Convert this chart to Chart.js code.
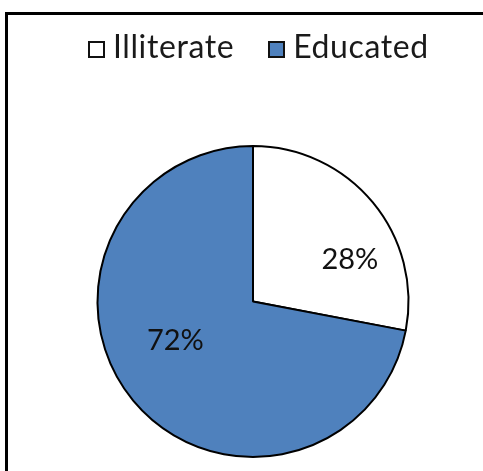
<!DOCTYPE html>
<html>
<head>
<meta charset="utf-8">
<script src="https://cdn.jsdelivr.net/npm/chart.js@4/dist/chart.umd.min.js"></script>
<style>
  html, body { margin: 0; padding: 0; background: #fff; overflow: hidden; }
  body { width: 483px; height: 471px; position: relative; }
  #frame {
    position: absolute; left: 5px; top: 12px; width: 600px; height: 600px;
    border-left: 3px solid #000; border-top: 3px solid #000;
  }
  #c { position: absolute; left: 0; top: 0; }
  #legend {
    position: absolute; left: 88px; top: 28px;
    display: flex; align-items: center;
    font-family: Lato, "Open Sans", sans-serif; font-size: 32px; line-height: 36px;
    letter-spacing: 0.6px; color: #1a1a1a; white-space: nowrap;
  }
  #legend .item { display: flex; align-items: center; margin-right: 34px; }
  #legend .item:last-child { margin-right: 0; }
  #legend .box {
    width: 17px; height: 17px; box-sizing: border-box; border: 2px solid #111;
    margin-right: 8px; position: relative; top: 3px;
  }
</style>
</head>
<body>
<div id="frame"></div>
<canvas id="c" width="483" height="471"></canvas>
<div id="legend"></div>
<script>
// Literacy split
const categories = ["Illiterate", "Educated"];
const shares = [28, 72];
const sliceColors = ["#ffffff", "#4f81bd"];

// Percentage labels written inside each slice
const sliceLabels = {
  id: "sliceLabels",
  afterDatasetsDraw(chart, args, opts) {
    const ctx = chart.ctx;
    const meta = chart.getDatasetMeta(0);
    const values = chart.data.datasets[0].data;
    const total = values.reduce((a, b) => a + b, 0);
    ctx.save();
    ctx.font = opts.font;
    ctx.fillStyle = opts.color;
    ctx.textAlign = "center";
    ctx.textBaseline = "middle";
    meta.data.forEach((arc, i) => {
      const p = arc.getProps(["x", "y", "outerRadius"], true);
      const place = opts.placement[i];
      const a = place.angle * Math.PI / 180;
      const r = p.outerRadius * place.radius;
      const text = Math.round(values[i] / total * 100) + "%";
      ctx.fillText(text, p.x + Math.cos(a) * r, p.y + Math.sin(a) * r);
    });
    ctx.restore();
  }
};

const chart = new Chart(document.getElementById("c"), {
  type: "pie",
  data: {
    labels: categories,
    datasets: [{
      data: shares,
      backgroundColor: sliceColors,
      borderColor: "#000",
      borderWidth: 2
    }]
  },
  options: {
    responsive: false,
    animation: false,
    events: [],
    layout: { padding: { top: 145, left: 96, right: 73, bottom: 13 } },
    plugins: {
      legend: { display: false },
      tooltip: { enabled: false },
      sliceLabels: {
        font: "29px Lato, 'Open Sans', sans-serif",
        color: "#111",
        placement: [
          { angle: -23.6, radius: 0.68 },
          { angle: 153.1, radius: 0.56 }
        ]
      }
    }
  },
  plugins: [sliceLabels]
});

// Legend built from the chart's own labels and colours
const legendEl = document.getElementById("legend");
chart.data.labels.forEach((label, i) => {
  const item = document.createElement("div");
  item.className = "item";
  const box = document.createElement("span");
  box.className = "box";
  box.style.background = chart.data.datasets[0].backgroundColor[i];
  const txt = document.createElement("span");
  txt.textContent = label;
  item.appendChild(box);
  item.appendChild(txt);
  legendEl.appendChild(item);
});
</script>
</body>
</html>
